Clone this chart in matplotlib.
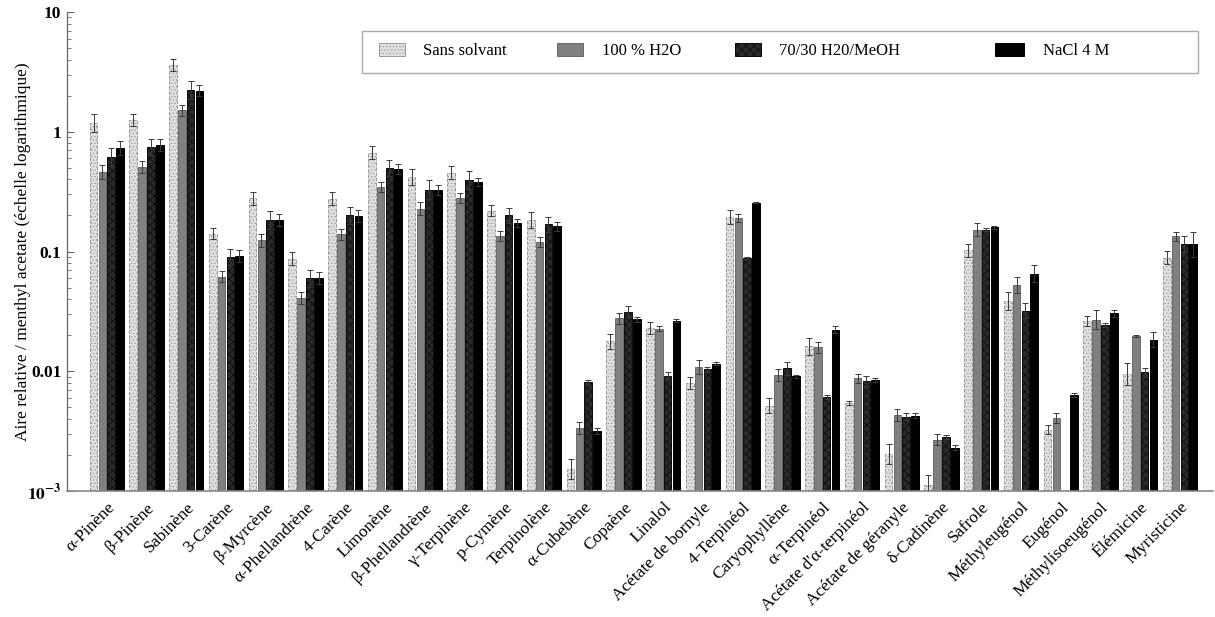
import numpy as np
import matplotlib
matplotlib.use("Agg")
import matplotlib.pyplot as plt
from matplotlib.patches import Rectangle
from matplotlib.ticker import FixedLocator, LogLocator, NullFormatter

plt.rcParams['font.family'] = ['Liberation Serif', 'DejaVu Serif']
plt.rcParams['mathtext.fontset'] = 'stix'
plt.rcParams['hatch.linewidth'] = 0.5

compounds = ["α-Pinène", "β-Pinène", "Sabinène", "3-Carène", "β-Myrcène",
             "α-Phellandrène", "4-Carène", "Limonène", "β-Phellandrène",
             "γ-Terpinène", "p-Cymène", "Terpinolène", "α-Cubebène", "Copaène",
             "Linalol", "Acétate de bornyle", "4-Terpinéol", "Caryophyllène",
             "α-Terpinéol", "Acétate d'α-terpinéol", "Acétate de géranyle",
             "δ-Cadinène", "Safrole", "Méthyleugénol", "Eugénol",
             "Méthylisoeugénol", "Élémicine", "Myristicine"]

series_names = ["Sans solvant", "100 % H2O", "70/30 H20/MeOH", "NaCl 4 M"]

sans_solvant = [1.19, 1.25, 3.60, 0.141, 0.278, 0.0874, 0.276, 0.670, 0.419,
                0.456, 0.219, 0.183, 0.00152, 0.0178, 0.0230, 0.00796, 0.194,
                0.00517, 0.0161, 0.00542, 0.00204, 0.00112, 0.1026, 0.0384,
                0.00324, 0.0261, 0.00953, 0.0886]
h2o = [0.46, 0.51, 1.51, 0.0618, 0.124, 0.041, 0.139, 0.345, 0.228, 0.278,
       0.134, 0.120, 0.00334, 0.0277, 0.0227, 0.01084, 0.190, 0.00935, 0.0158,
       0.00877, 0.00430, 0.00267, 0.152, 0.0526, 0.00406, 0.0270, 0.0196,
       0.1335]
h2o_meoh = [0.615, 0.746, 2.24, 0.0897, 0.183, 0.0598, 0.201, 0.498, 0.328,
            0.395, 0.200, 0.169, 0.00812, 0.0313, 0.00917, 0.0104, 0.0879,
            0.01063, 0.00608, 0.00828, 0.00416, 0.00281, 0.152, 0.0319,
            np.nan, 0.0242, 0.00977, 0.116]
nacl = [0.73, 0.776, 2.20, 0.092, 0.183, 0.0598, 0.198, 0.490, 0.326, 0.383,
        0.173, 0.162, 0.00318, 0.0271, 0.0265, 0.0116, 0.256, 0.00905, 0.0223,
        0.00849, 0.00427, 0.00230, 0.159, 0.0655, 0.00632, 0.0305, 0.0183,
        0.1145]

err_sans = [0.23, 0.15, 0.44, 0.016, 0.036, 0.011, 0.036, 0.091, 0.066, 0.06,
            0.025, 0.03, 0.00032, 0.0027, 0.0026, 0.001, 0.026, 0.0008, 0.003,
            0.0002, 0.00045, 0.00024, 0.014, 0.0071, 0.0003, 0.0027, 0.0022,
            0.012]
err_h2o = [0.063, 0.06, 0.17, 0.0071, 0.016, 0.005, 0.016, 0.035, 0.03, 0.028,
           0.014, 0.012, 0.0004, 0.003, 0.001, 0.0015, 0.014, 0.0011, 0.0018,
           0.0008, 0.0005, 0.0003, 0.02, 0.0091, 0.0004, 0.0055, 0.0003,
           0.011]
err_meoh = [0.117, 0.12, 0.41, 0.015, 0.034, 0.0108, 0.036, 0.087, 0.064,
            0.075, 0.03, 0.027, 0.0004, 0.0035, 0.0006, 0.0005, 0.002, 0.0014,
            0.0002, 0.0008, 0.0003, 0.0001, 0.005, 0.005, np.nan, 0.001,
            0.0008, 0.02]
err_nacl = [0.1, 0.09, 0.25, 0.011, 0.021, 0.007, 0.026, 0.052, 0.03, 0.03,
            0.015, 0.016, 0.0002, 0.0014, 0.0007, 0.0003, 0.003, 0.0003,
            0.0015, 0.0003, 0.0002, 0.0001, 0.005, 0.012, 0.0002, 0.002,
            0.0028, 0.03]

values = [sans_solvant, h2o, h2o_meoh, nacl]
errors = [err_sans, err_h2o, err_meoh, err_nacl]

styles = [
    dict(facecolor='#e0e0e0', edgecolor='#9a9a9a', hatch='.....', linestyle='--'),
    dict(facecolor='#808080', edgecolor='#6a6a6a', hatch=None, linestyle='-'),
    dict(facecolor='#2a2a2a', edgecolor='#0a0a0a', hatch='xxxx', linestyle='-'),
    dict(facecolor='#000000', edgecolor='#000000', hatch=None, linestyle='-'),
]

W, H = 1215, 617
fig = plt.figure(figsize=(W / 100, H / 100), dpi=100)
ax = fig.add_axes([67 / W, 1 - 491 / H, (1213 - 67) / W, (491 - 12) / H])

x = np.arange(len(compounds))
pitch = 0.222
width = 0.19
offsets = (np.arange(4) - 1.5) * pitch

for i in range(4):
    v = np.array(values[i], dtype=float)
    e = np.array(errors[i], dtype=float)
    st = styles[i]
    ax.bar(x + offsets[i], v, width,
           facecolor=st['facecolor'], edgecolor=st['edgecolor'],
           hatch=st['hatch'], linewidth=0.7, linestyle=st['linestyle'],
           label=series_names[i], zorder=2)
    lower = v * e / (v + e)
    ax.errorbar(x + offsets[i], v, yerr=[lower, e], fmt='none',
                ecolor='#3a3a3a', elinewidth=0.7, capsize=2, capthick=0.7,
                zorder=3)

ax.set_yscale('log')
ax.set_ylim(1e-3, 10)
ax.set_xlim(-1.0, 27.83)

ax.yaxis.set_major_locator(FixedLocator([1e-3, 1e-2, 1e-1, 1, 10]))
ax.set_yticklabels(['$\\mathbf{10^{-3}}$', '0.01', '0.1', '1', '10'],
                   fontsize=12.5, fontweight='bold')
ax.yaxis.set_minor_locator(LogLocator(base=10, subs=np.arange(2, 10)))
ax.yaxis.set_minor_formatter(NullFormatter())
ax.tick_params(axis='y', which='major', direction='in', length=5,
               width=0.8, color='#666666', pad=4)
ax.tick_params(axis='y', which='minor', direction='in', length=3,
               width=0.6, color='#666666')

ax.set_xticks(x)
ax.set_xticklabels(compounds, rotation=45, ha='right', rotation_mode='anchor',
                   fontsize=12.5)
ax.tick_params(axis='x', length=0, pad=6)

for s in ['top', 'right']:
    ax.spines[s].set_visible(False)
ax.spines['left'].set_color('#666666')
ax.spines['bottom'].set_color('#888888')
ax.spines['left'].set_linewidth(0.9)
ax.spines['bottom'].set_linewidth(1.2)

ax.set_ylabel('Aire relative / menthyl acetate (échelle logarithmique)',
              fontsize=12.5)
ax.yaxis.set_label_coords(-0.031, 0.5)

# Legend (manual layout to mimic the reference's uneven spacing)
def fx(px):
    return px / W

def fy(py):
    return 1 - py / H

frame = Rectangle((fx(362), fy(73)), fx(1198) - fx(362), fy(31) - fy(73),
                  transform=fig.transFigure, facecolor='white',
                  edgecolor='#aaaaaa', linewidth=1.0, zorder=5)
fig.patches.append(frame)
handle_x = [379, 557, 735, 995]
handle_w = [26, 26, 26, 29]
text_x = [423, 602, 779, 1043]
for i in range(4):
    st = styles[i]
    r = Rectangle((fx(handle_x[i]), fy(56)), fx(handle_w[i]), fy(43) - fy(56),
                  transform=fig.transFigure, facecolor=st['facecolor'],
                  edgecolor=st['edgecolor'], hatch=st['hatch'],
                  linewidth=0.7, zorder=6)
    fig.patches.append(r)
    fig.text(fx(text_x[i]), fy(51), series_names[i], fontsize=12,
             ha='left', va='center', zorder=7)

fig.savefig('out.png', dpi=100)
